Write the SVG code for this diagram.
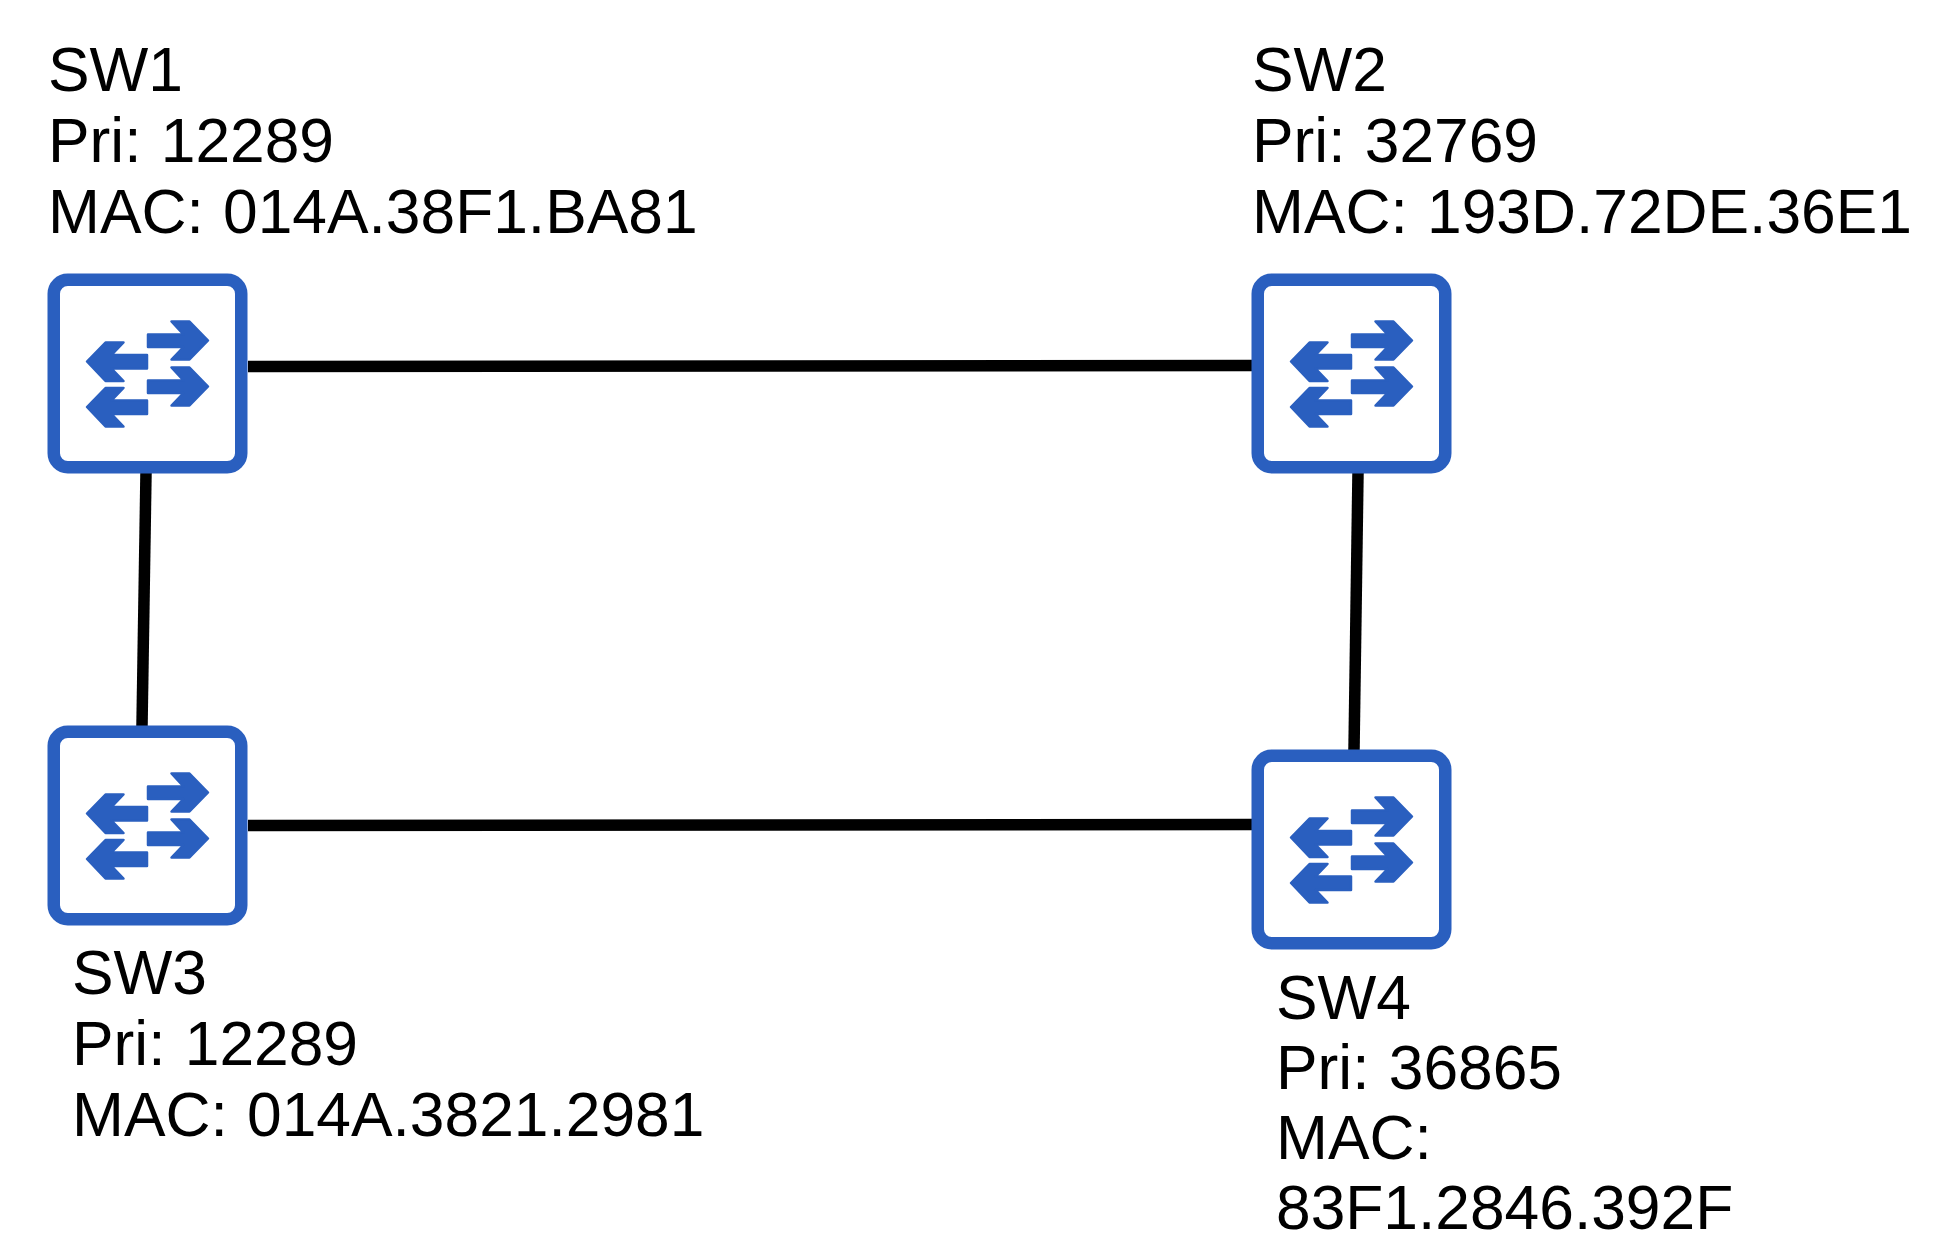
<svg xmlns="http://www.w3.org/2000/svg" xmlns:xlink="http://www.w3.org/1999/xlink" width="1934" height="1254" viewBox="0 0 1934 1254">
<style>
.box{fill:#fff;stroke:#2a5fbf;stroke-width:12.5}
.ar{fill:#2a5fbf;stroke:#2a5fbf;stroke-width:2.5;stroke-linejoin:round}
.ln{stroke:#000;stroke-width:11.5;fill:none}
text{font-family:"Liberation Sans",Arial,sans-serif;font-size:62.3px;word-spacing:2px;fill:#000}
</style>
<defs>
<g id="sw">
<rect class="box" x="6.250" y="6.250" width="187.500" height="187.500" rx="14"/>
<path class="ar" d="M100.500 61H136L124 48H142L160.500 67L142 86H124L136 73.500H100.500Z"/>
<path class="ar" d="M100.500 107H136L124 94H142L160.500 113L142 132H124L136 119.500H100.500Z"/>
<path class="ar" d="M99.500 81.500H64L76 69H58L39.500 88L58 107.500H76L64 95H99.500Z"/>
<path class="ar" d="M99.500 127H64L76 114.500H58L39.500 133.500L58 153H76L64 140.500H99.500Z"/>
</g>
</defs>
<g id="connectors">
<path class="ln" d="M248 366.500L1252 365.500"/>
<path class="ln" d="M146 473L142 726"/>
<path class="ln" d="M1358 473L1354 750"/>
<path class="ln" d="M248 825.500L1252 824.500"/>
</g>
<g id="SW1"><use href="#sw" x="47.500" y="273.500"/>
<text x="48" y="91">SW1</text><text x="48" y="162">Pri: 12289</text><text x="48" y="233">MAC: 014A.38F1.BA81</text></g>
<g id="SW2"><use href="#sw" x="1251.500" y="273.500"/>
<text x="1252" y="91">SW2</text><text x="1252" y="162">Pri: 32769</text><text x="1252" y="233">MAC: 193D.72DE.36E1</text></g>
<g id="SW3"><use href="#sw" x="47.500" y="725.500"/>
<text x="72" y="993.500">SW3</text><text x="72" y="1064.500">Pri: 12289</text><text x="72" y="1135.500">MAC: 014A.3821.2981</text></g>
<g id="SW4"><use href="#sw" x="1251.500" y="749.500"/>
<text x="1276" y="1018.500">SW4</text><text x="1276" y="1089">Pri: 36865</text><text x="1276" y="1158.500">MAC:</text><text x="1276" y="1228.500">83F1.2846.392F</text></g>
</svg>
